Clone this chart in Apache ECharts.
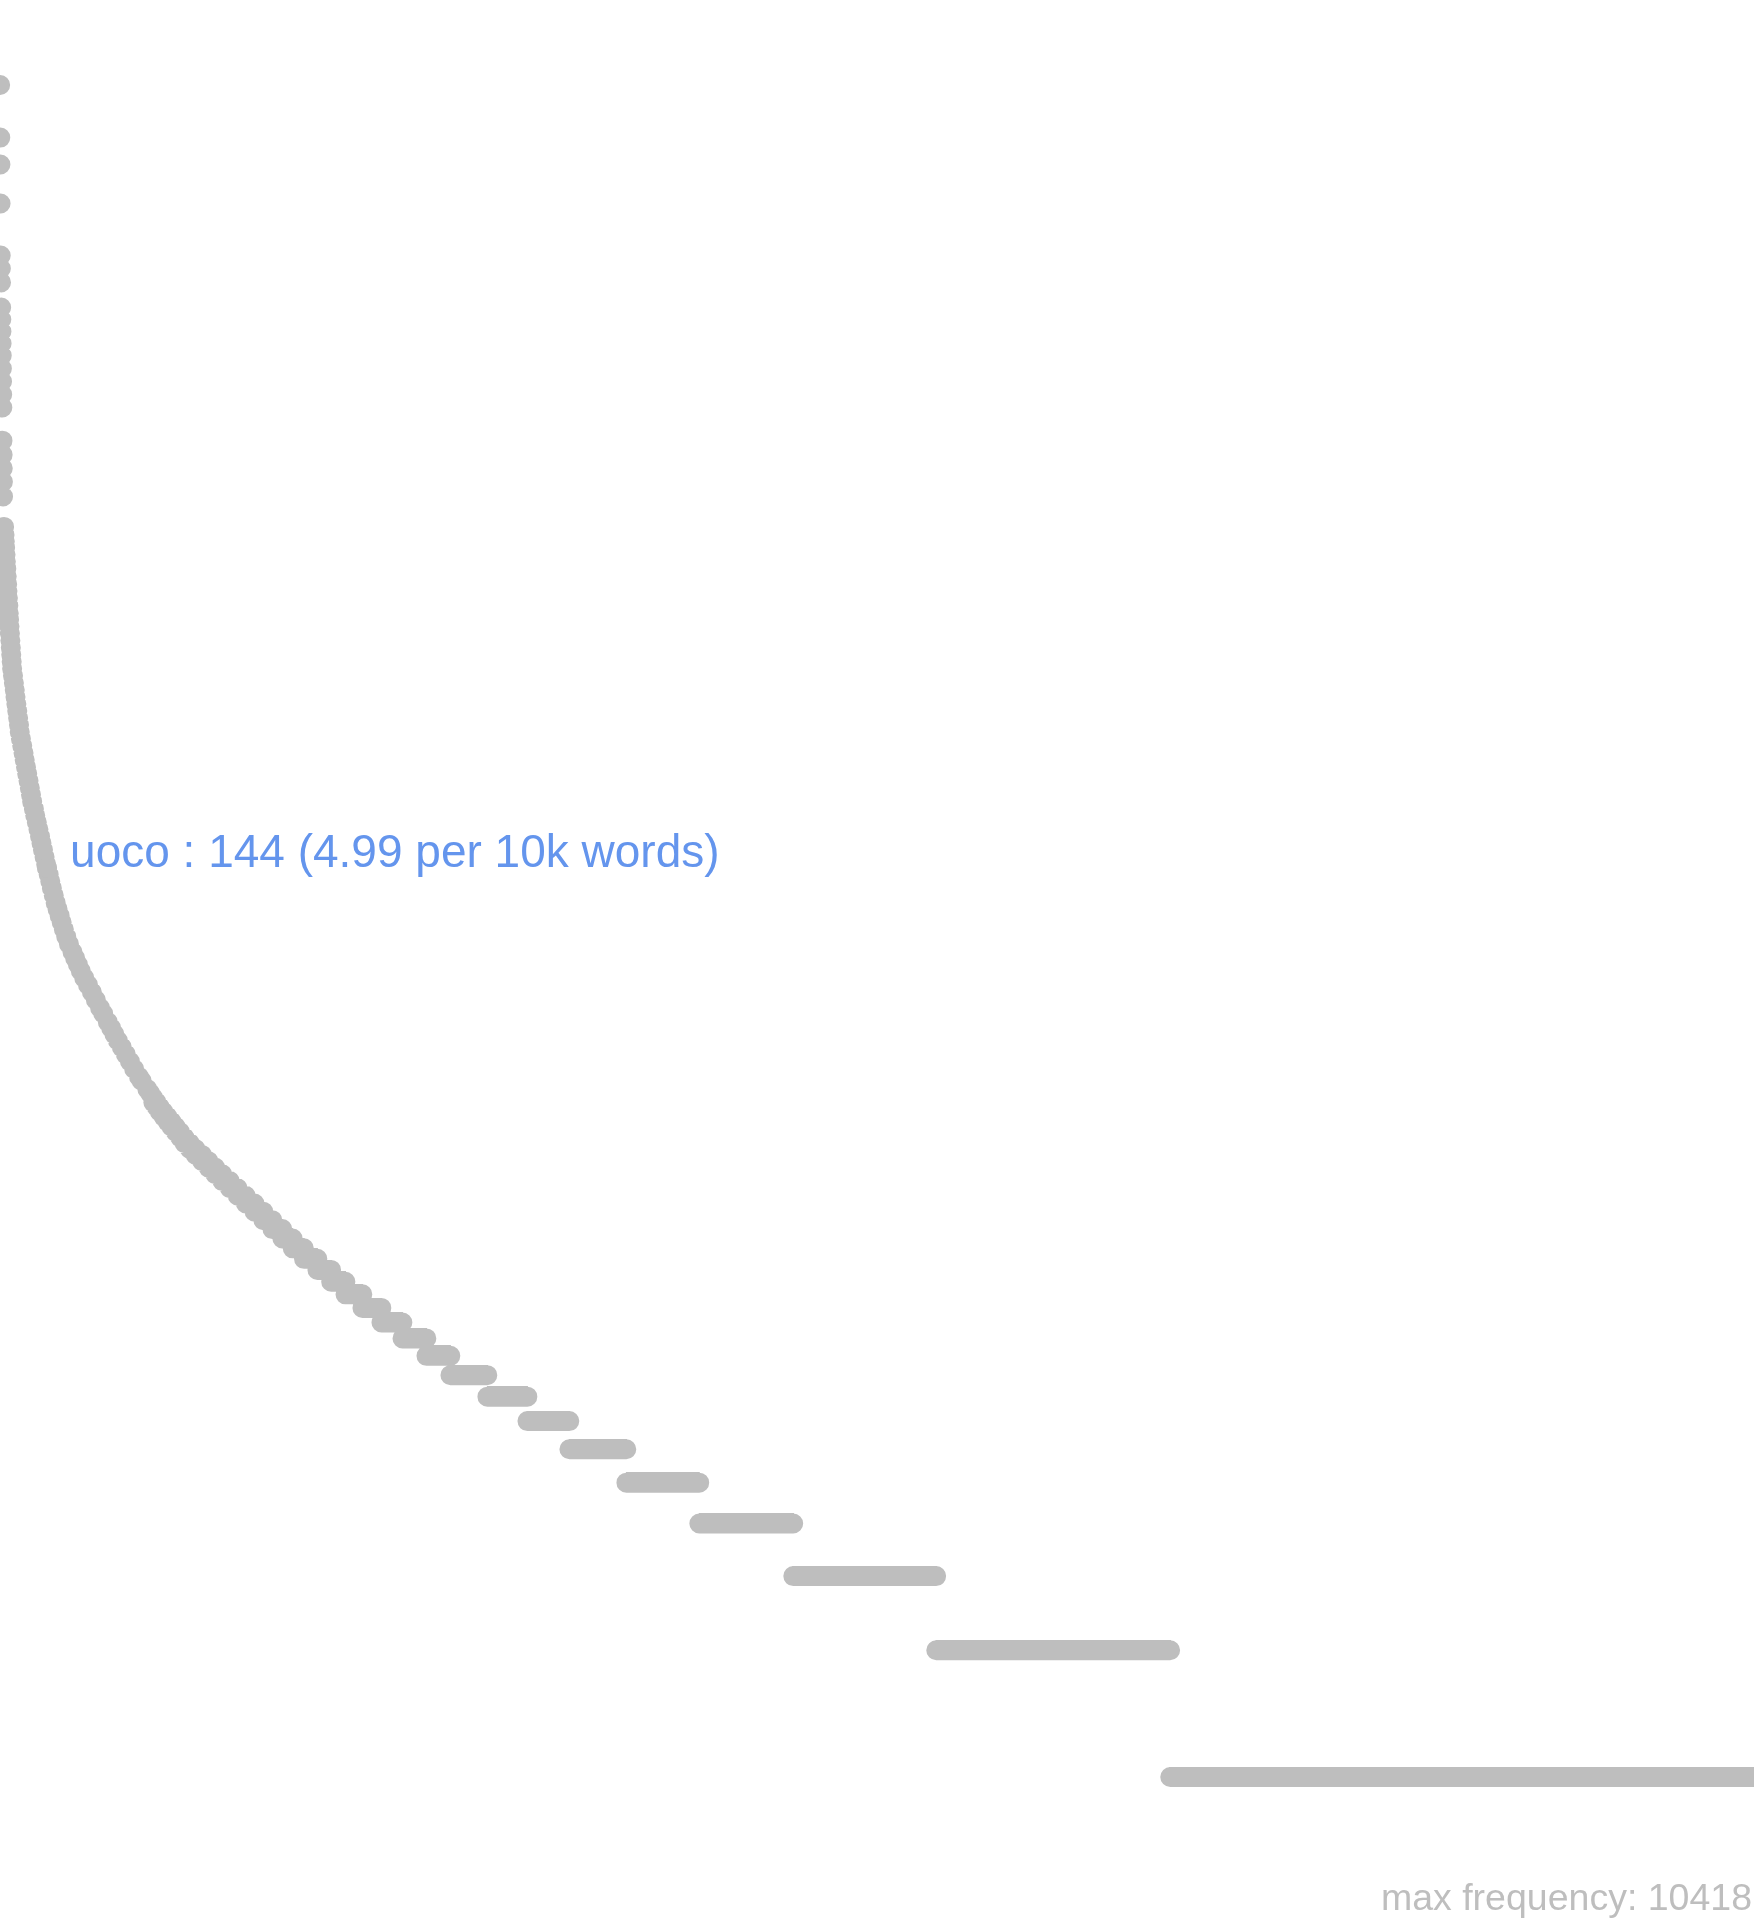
<!DOCTYPE html>
<html>
<head>
<meta charset="utf-8">
<title>word frequency</title>
<script src="https://cdn.jsdelivr.net/npm/echarts@6/dist/echarts.min.js"></script>
<style>
    html, body {margin: 0; padding: 0; background: #fff;}
    #chart {width: 1754px; height: 1920px;}
</style>
</head>
<body>
<div id="chart"></div>
<script>

// most frequent words, one dot each (rank 1, 2, 3 ...)
var topFreq = [10418, 7816, 6745, 5450, 4100, 3820, 3540, 3085, 2890, 2705, 2535,
    2373, 2210, 2059, 1918, 1786, 1490, 1380, 1281, 1190, 1098];

var curveRank = [28, 31, 33, 35, 38, 40, 43, 46, 49, 51, 54, 57, 60, 62, 65, 68, 71, 74, 77, 80,
    83, 89, 95, 101, 106, 112, 118, 124, 130, 135, 143, 152, 161, 169, 178, 186, 195, 204, 212, 220,
    232, 241, 252, 263, 274, 284, 294, 305, 316, 322, 333, 344, 355, 368, 381, 394, 408, 422, 437, 453,
    472, 496, 514, 533, 553, 576, 602, 629, 656, 685, 706, 738, 761, 783, 807, 834, 861, 889, 918, 951,
    969, 1008, 1028, 1048];
var curveFreq = [930, 890, 860, 830, 800, 770, 740, 710, 680, 655, 630, 605, 580, 560, 540, 520, 500, 480, 462, 445,
    428, 412, 396, 381, 367, 353, 340, 327, 315, 303, 292, 281, 270, 260, 250, 241, 232, 223, 215, 207,
    199, 192, 185, 178, 171, 165, 159, 153, 147, 144, 139, 134, 129, 124, 119, 115, 111, 107, 103, 99,
    95, 91, 88, 85, 82, 79, 76, 73, 70, 67, 65, 62, 60, 58, 56, 54, 52, 50, 48, 46,
    45, 43, 42, 41];

// low frequencies: how many words share each frequency
var stepFreq = [40, 39, 38, 37, 36, 35, 34, 33, 32, 31, 30, 29, 28, 27, 26, 25, 24, 23, 22, 21,
    20, 19, 18, 17, 16, 15, 14, 13, 12, 11, 10, 9, 8, 7, 6, 5, 4, 3, 2, 1];
var stepWords = [23, 22, 25, 27, 28, 29, 30, 30, 36, 40, 44, 44, 46, 49, 51, 54, 55, 60, 60, 62,
    68, 71, 77, 92, 94, 98, 116, 130, 144, 164, 164, 253, 274, 287, 390, 499, 643, 978, 1601, 3995];

// highlighted word
var markWord = 'uoco';
var markFreq = 144;
var markPer10k = 4.99;
var markRank = 322;

var maxFreq = 10418;

// [rank, frequency] points
var points = [];
for (var i = 0; i < topFreq.length; i++) {
    points.push([i + 1, topFreq[i]]);
}
for (var j = 0; j < curveRank.length; j++) {
    points.push([curveRank[j], curveFreq[j]]);
}
var rank = curveRank[curveRank.length - 1];
for (var k = 0; k < stepFreq.length; k++) {
    for (var n = 0; n < stepWords[k]; n++) {
        rank++;
        points.push([rank, stepFreq[k]]);
    }
}
var vocabSize = rank;

var myChart = echarts.init(document.getElementById('chart'));

var option = {
    animation: false,
    backgroundColor: '#ffffff',
    grid: {left: 0, right: 0, top: 85, bottom: 143},
    xAxis: {type: 'value', min: 0, max: vocabSize, show: false},
    yAxis: {type: 'log', logBase: 10, min: 1, max: maxFreq, show: false},
    series: [
        {
            type: 'scatter',
            data: points,
            symbol: 'circle',
            symbolSize: 20,
            itemStyle: {color: '#bebebe', opacity: 1},
            large: true,
            largeThreshold: 2000,
            progressive: 0,
            clip: false,
            silent: true
        },
        {
            type: 'scatter',
            data: [[markRank, markFreq]],
            symbol: 'circle',
            symbolSize: 20,
            itemStyle: {color: '#bebebe', opacity: 1},
            clip: false,
            label: {
                show: true,
                position: 'right',
                distance: 13,
                offset: [0, -14],
                formatter: markWord + ' : ' + markFreq + ' (' + markPer10k + ' per 10k words)',
                color: '#6495ed',
                opacity: 1,
                fontSize: 46,
                fontFamily: '"Liberation Sans", Arial, sans-serif'
            }
        }
    ],
    graphic: [
        {
            type: 'text',
            right: 2,
            bottom: 1,
            style: {
                text: 'max frequency: ' + maxFreq,
                fill: '#bebebe',
                font: '37.5px "Liberation Sans", Arial, sans-serif'
            }
        }
    ]
};

myChart.setOption(option);
</script>
</body>
</html>
